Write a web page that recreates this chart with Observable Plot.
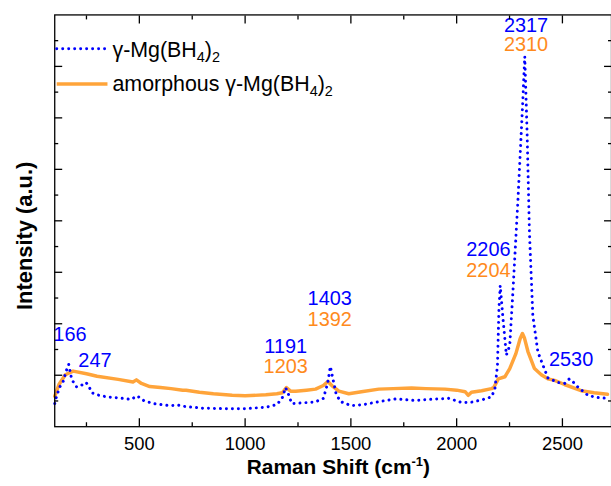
<!DOCTYPE html>
<html><head><meta charset="utf-8">
<script src="https://cdn.jsdelivr.net/npm/d3@7"></script>
<script src="https://cdn.jsdelivr.net/npm/@observablehq/plot@0.6"></script>
<style>
html,body{margin:0;padding:0;background:#fff;overflow:hidden}
#chart{width:611px;height:486px;overflow:hidden;position:relative}
</style></head><body><div id="chart"></div>
<script>
// γ-Mg(BH4)2 (blue dotted)
const crystWave = [100,110,125,140,155,166,172,180,204,225,248,262,275,300,345,400,462,489,520,564,643,682,720,800,900,1000,1100,1150,1175,1191,1205,1220,1260,1330,1370,1390,1403,1415,1430,1450,1500,1560,1650,1711,1800,1870,1962,2024,2063,2118,2165,2181,2193,2200,2206,2219,2235,2251,2266,2290,2313,2322,2333,2344,2360,2384,2431,2478,2510,2533,2558,2573,2620,2660,2714];
const crystInt  = [0.45,0.61,0.78,0.88,1.09,1.21,1.09,0.92,0.77,0.80,0.86,0.78,0.66,0.62,0.58,0.56,0.53,0.60,0.51,0.45,0.41,0.42,0.39,0.36,0.35,0.35,0.38,0.43,0.55,0.76,0.63,0.45,0.46,0.48,0.55,0.84,1.17,0.93,0.64,0.49,0.41,0.43,0.50,0.54,0.51,0.53,0.55,0.47,0.47,0.52,0.58,0.74,1.19,2.29,2.74,2.10,1.39,1.58,2.62,4.42,6.35,7.19,5.71,3.78,2.16,1.45,0.95,0.86,0.84,0.93,0.84,0.77,0.61,0.57,0.55];
// amorphous γ-Mg(BH4)2 (orange solid)
const amorWave = [100,120,150,187,250,300,400,470,486,510,549,600,650,705,721,784,850,939,1000,1098,1150,1176,1195,1215,1239,1290,1333,1370,1391,1410,1443,1490,1550,1632,1700,1787,1855,1945,2000,2040,2055,2070,2118,2165,2175,2197,2228,2251,2280,2300,2311,2320,2337,2368,2400,2431,2463,2510,2588,2650,2713];
const amorInt  = [0.59,0.82,1.01,1.08,1.03,0.98,0.92,0.87,0.91,0.84,0.78,0.76,0.74,0.71,0.71,0.67,0.64,0.61,0.60,0.62,0.64,0.66,0.76,0.69,0.69,0.71,0.73,0.80,0.88,0.80,0.69,0.64,0.68,0.73,0.74,0.75,0.74,0.73,0.71,0.68,0.61,0.67,0.70,0.74,0.76,0.93,0.97,1.13,1.42,1.71,1.81,1.73,1.46,1.13,1.01,0.93,0.90,0.82,0.70,0.66,0.63];

const xTickValues = [500,1000,1500,2000,2500];
const xMinorValues = [250,750,1250,1750,2250];
const yMajorValues = [1,2,3,4,5,6,7];
const yMinorValues = [0.5,1.5,2.5,3.5,4.5,5.5,6.5,7.5];

const peakText   = ["166","247","1191","1203","1403","1392","2206","2204","2317","2310","2530"];
const peakWave   = [172,290,1192,1192,1400,1400,2150,2150,2328,2328,2541];
const peakLevel  = [1.785,1.288,1.559,1.161,2.48,2.081,3.449,3.029,7.80,7.414,1.308];
const peakSeries = ["c","c","c","a","c","a","c","a","c","a","c"];

const legendNames = ["γ-Mg(BH", "amorphous γ-Mg(BH"];

const BLUE = "#0000ff", ORANGE_LINE = "#ffa43a", ORANGE_TEXT = "#ff8a1c";
const FONT = "'Liberation Sans', Arial, sans-serif";

const peaks = peakText.map((t, i) => ({t, w: peakWave[i], v: peakLevel[i], s: peakSeries[i]}));

const chart = Plot.plot({
  width: 614, height: 486,
  marginLeft: 54.5, marginRight: 0, marginTop: 14.5, marginBottom: 57.7,
  x: {domain: [100, 2732]},
  y: {domain: [0, 8]},
  style: {fontFamily: FONT, background: "#fff", color: "#000"},
  marks: [
    Plot.line(amorInt, {x: amorWave, y: amorInt, stroke: ORANGE_LINE, strokeWidth: 3.5, strokeLinejoin: "round"}),
    Plot.line(crystInt, {x: crystWave, y: crystInt, stroke: BLUE, strokeWidth: 3, strokeDasharray: "0.01 6", strokeLinecap: "round", strokeLinejoin: "round"}),
    Plot.text(peaks, {x: "w", y: "v", text: "t", fill: d => d.s === "c" ? BLUE : ORANGE_TEXT, fontSize: 20, fontFamily: FONT}),
    Plot.frame({stroke: "#000", strokeWidth: 1.3}),
    Plot.axisX({ticks: xTickValues, tickSize: -8, text: null, label: null, strokeWidth: 1.3}),
    Plot.axisX({ticks: xMinorValues, tickSize: -4, text: null, label: null, strokeWidth: 1.3}),
    Plot.axisX({anchor: "top", ticks: xTickValues, tickSize: -8, text: null, label: null, strokeWidth: 1.3}),
    Plot.axisX({anchor: "top", ticks: xMinorValues, tickSize: -4, text: null, label: null, strokeWidth: 1.3}),
    Plot.axisX({ticks: xTickValues, tickSize: 0, tickPadding: 10, fontSize: 18.5, label: null, tickFormat: d => String(d)}),
    Plot.axisY({ticks: yMajorValues, tickSize: -8, text: null, label: null, strokeWidth: 1.3}),
    Plot.axisY({ticks: yMinorValues, tickSize: -4, text: null, label: null, strokeWidth: 1.3}),
    Plot.axisY({anchor: "right", ticks: yMajorValues, tickSize: -8, text: null, label: null, strokeWidth: 1.3}),
    Plot.axisY({anchor: "right", ticks: yMinorValues, tickSize: -4, text: null, label: null, strokeWidth: 1.3})
  ]
});
document.getElementById("chart").appendChild(chart);

const svg = d3.select(chart);
// axis titles
const xt = svg.append("text").attr("x", 340).attr("y", 476).attr("text-anchor", "middle")
  .attr("font-family", FONT).attr("font-weight", "bold").attr("font-size", 21).attr("fill", "#000");
xt.append("tspan").text("Raman Shift (cm");
xt.append("tspan").attr("font-size", 13).attr("dy", -8).text("-1");
xt.append("tspan").attr("dy", 8).text(")");

svg.append("text").attr("transform", "translate(32,237) rotate(-90)").attr("text-anchor", "middle")
  .attr("font-family", FONT).attr("font-weight", "bold").attr("font-size", 22).attr("fill", "#000")
  .text("Intensity (a.u.)");

// legend
const lg = svg.append("g");
lg.append("line").attr("x1", 57).attr("x2", 106).attr("y1", 49).attr("y2", 49)
  .attr("stroke", BLUE).attr("stroke-width", 3).attr("stroke-dasharray", "0.01 6").attr("stroke-linecap", "round");
lg.append("line").attr("x1", 57).attr("x2", 108).attr("y1", 84.5).attr("y2", 84.5)
  .attr("stroke", ORANGE_LINE).attr("stroke-width", 3.5);
[[legendNames[0], 57], [legendNames[1], 91.5]].forEach(([name, by]) => {
  const t = lg.append("text").attr("x", 113).attr("y", by).attr("text-anchor", "start")
    .attr("font-family", FONT).attr("font-size", 21.5).attr("fill", "#000");
  t.append("tspan").text(name);
  t.append("tspan").attr("font-size", 14.5).attr("dy", 5).text("4");
  t.append("tspan").attr("dy", -5).text(")");
  t.append("tspan").attr("font-size", 14.5).attr("dy", 5).text("2");
});
</script></body></html>
